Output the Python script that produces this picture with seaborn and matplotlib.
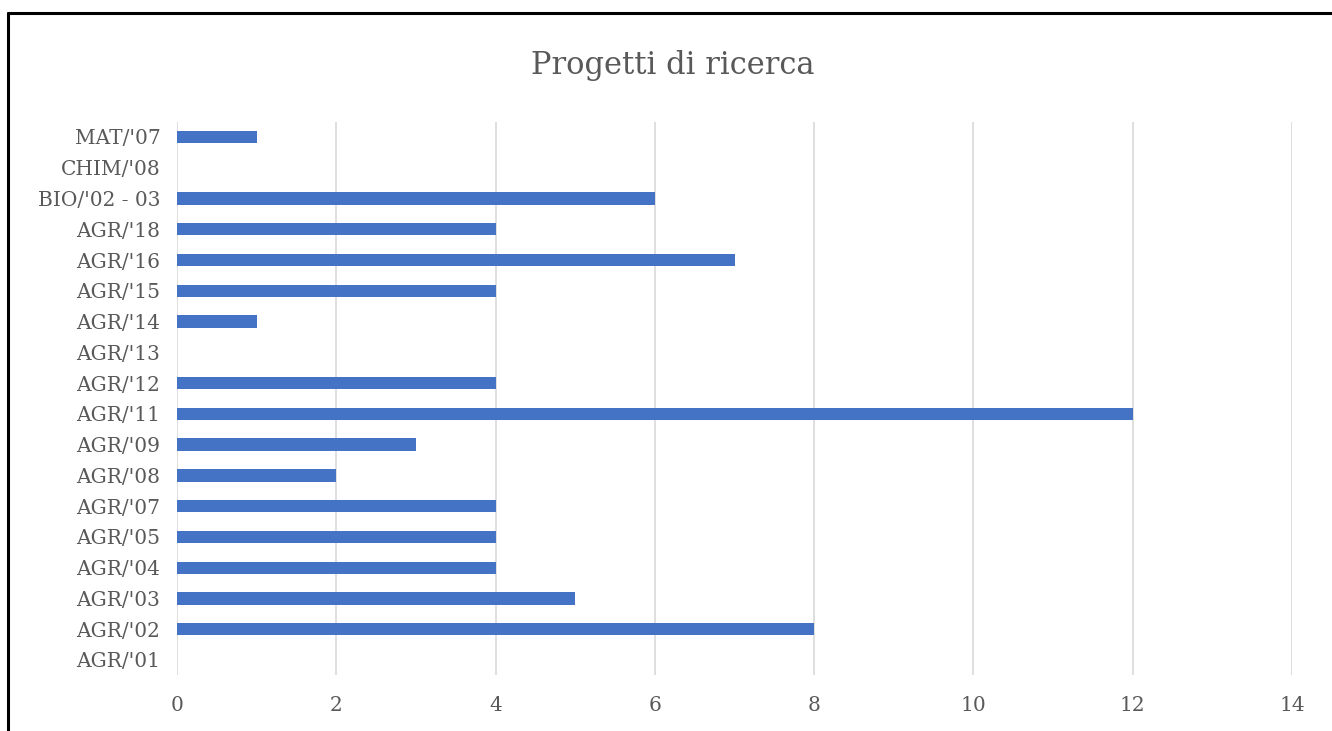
import matplotlib
matplotlib.use('Agg')
import matplotlib.pyplot as plt
from matplotlib.lines import Line2D
import seaborn as sns
import pandas as pd

# Data (top to bottom)
categories = ["MAT/'07", "CHIM/'08", "BIO/'02 - 03", "AGR/'18", "AGR/'16",
              "AGR/'15", "AGR/'14", "AGR/'13", "AGR/'12", "AGR/'11",
              "AGR/'09", "AGR/'08", "AGR/'07", "AGR/'05", "AGR/'04",
              "AGR/'03", "AGR/'02", "AGR/'01"]
values = [1, 0, 6, 4, 7, 4, 1, 0, 4, 12, 3, 2, 4, 4, 4, 5, 8, 0]
x_ticks = [0, 2, 4, 6, 8, 10, 12, 14]

df = pd.DataFrame({'settore': categories, 'progetti': values})

sns.set_style('white')
plt.rcParams['font.family'] = ['DejaVu Serif']

fig = plt.figure(figsize=(13.32, 7.31), dpi=100)
ax = fig.add_axes([0.1329, 0.0761, 0.8371, 0.7576])

sns.barplot(data=df, x='progetti', y='settore', order=categories,
            color='#4472C4', saturation=1, width=0.4, linewidth=0,
            ax=ax, zorder=3)

ax.set_xlim(0, 14)
ax.set_xticks(x_ticks)
ax.grid(axis='x', color='#D9D9D9', linewidth=1.2, zorder=0)
ax.set_axisbelow(True)
for s in ax.spines.values():
    s.set_visible(False)
ax.tick_params(axis='both', length=0, labelsize=14.5, colors='#595959')
ax.tick_params(axis='x', pad=15)
ax.tick_params(axis='y', pad=12)
ax.set_xlabel('')
ax.set_ylabel('')

fig.text(0.505, 0.911, 'Progetti di ricerca', ha='center', va='center',
         fontsize=22, color='#595959')

# frame of the screenshot
fig.add_artist(Line2D([0.006, 1.0], [0.982, 0.982], transform=fig.transFigure,
                      color='black', linewidth=2.2))
fig.add_artist(Line2D([0.006, 0.006], [0.0, 0.982], transform=fig.transFigure,
                      color='black', linewidth=2.2))

fig.savefig('out.png', dpi=100)
